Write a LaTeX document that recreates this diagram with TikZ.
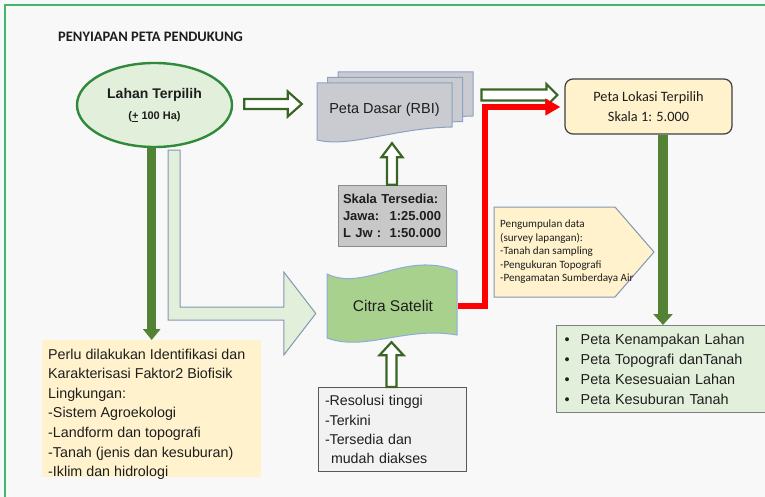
\documentclass[tikz,border=0pt]{standalone}
\usepackage{fontspec}
\setmainfont{Liberation Sans}
\newfontfamily\calibri{Carlito}
\usetikzlibrary{calc,arrows.meta,shapes.geometric,backgrounds}

\definecolor{bgcol}{HTML}{F8F8F8}
\definecolor{framecol}{HTML}{43B66E}
\definecolor{textdark}{HTML}{1E1E1E}
\definecolor{lightgreen}{HTML}{E2EFDA}
\definecolor{lahanborder}{HTML}{2F8A3C}
\definecolor{hollowgreen}{HTML}{3B6525}
\definecolor{darkgreen}{HTML}{548235}
\definecolor{pagefill}{HTML}{CACBD0}
\definecolor{pageborder}{HTML}{8EA0C2}
\definecolor{skalafill}{HTML}{C8C8C8}
\definecolor{skalaborder}{HTML}{8A8A8A}
\definecolor{citrafill}{HTML}{A9D18E}
\definecolor{citraborder}{HTML}{8FAADC}
\definecolor{lborder}{HTML}{8497B0}
\definecolor{creamfill}{HTML}{FFF2CC}
\definecolor{resfill}{HTML}{F2F2F2}
\definecolor{resborder}{HTML}{595959}
\definecolor{lokborder}{HTML}{3F3F3F}
\definecolor{listborder}{HTML}{7F7F7F}
\definecolor{redline}{HTML}{FF0000}

% block arrow pointing right: style, start point, tip point, shaft half, head half, head length
\newcommand\blockright[6]{%
  \draw[#1] let \p1=#2, \p2=#3 in
    (\x1,\y1+#4) -- (\x2-#6,\y1+#4) -- (\x2-#6,\y1+#5) -- (\x2,\y1)
    -- (\x2-#6,\y1-#5) -- (\x2-#6,\y1-#4) -- (\x1,\y1-#4) -- cycle;}
% block arrow pointing up: style, start point, tip point, shaft half, head half, head length
\newcommand\blockup[6]{%
  \draw[#1] let \p1=#2, \p2=#3 in
    (\x1-#4,\y1) -- (\x1-#4,\y2-#6) -- (\x1-#5,\y2-#6) -- (\x1,\y2)
    -- (\x1+#5,\y2-#6) -- (\x1+#4,\y2-#6) -- (\x1+#4,\y1) -- cycle;}

\begin{document}
\begin{tikzpicture}[x=1pt,y=-1pt,
  every node/.style={text=textdark},
  hollow/.style={draw=hollowgreen, fill=white, line width=2.2pt},
  darkarrow/.style={draw=darkgreen, line width=9pt, -{Triangle[width=17pt,length=11pt]}},
  darkarrowB/.style={draw=darkgreen, line width=10pt, -{Triangle[width=19pt,length=11pt]}},
  pagestyle/.style={fill=pagefill, draw=pageborder, line width=1pt},
  lightarrow/.style={fill=lightgreen, draw=lborder, line width=1pt},
  redpath/.style={draw=redline, line width=6pt, -{Triangle[width=16pt,length=15pt]}, shorten >=4pt},
]
\useasboundingbox (0,0) rectangle (765,497);

% title
\node[anchor=west, inner sep=0, font={\calibri\bfseries\fontsize{14.5}{17}\selectfont}] (title) at (58,37) {PENYIAPAN PETA PENDUKUNG};

% selected land
\node[ellipse, draw=lahanborder, line width=2.4pt, fill=lightgreen, minimum width=155pt, minimum height=84pt,
  inner sep=0, align=center, font={\bfseries\fontsize{14}{21}\selectfont}] (lahan) at (154.5,105)
  {Lahan Terpilih\\{\fontsize{11}{21}\selectfont(\underline{+} 100 Ha)}};

% stacked base-map sheets
\foreach \dx/\dy in {21/-11, 10.5/-5.5, 0/0}
  \filldraw[pagestyle, shift={(\dx,\dy)}] (317,83) -- (452,83) -- (452,127)
    .. controls (395,128) and (350,148) .. (317,140) -- cycle;
\node[font={\fontsize{14.5}{17}\selectfont}, minimum width=135pt, minimum height=54pt, inner sep=0] (dasar) at (384.5,110) {Peta Dasar (RBI)};

% satellite image banner
\filldraw[fill=citrafill, draw=citraborder, line width=1pt]
  (327,274) .. controls (365,292) and (405,250) .. (457,271) -- (457,335)
  .. controls (405,326) and (365,352) .. (327,338) -- cycle;
\node[font={\fontsize{15.5}{18}\selectfont}, minimum width=130pt, minimum height=72pt, inner sep=0] (citra) at (393,306) {Citra Satelit};

% boxes
\node[draw=skalaborder, fill=skalafill, line width=1pt, text width=98pt, inner xsep=5pt, inner ysep=9pt, align=left,
  font={\bfseries\fontsize{13}{17}\selectfont}] (skala) at (392,216)
  {Skala Tersedia:\\Jawa:\hfill 1:25.000\\L Jw :\hfill 1:50.000};

\node[draw=resborder, fill=resfill, line width=1pt, text width=135pt, inner xsep=6.5pt, inner ysep=8pt, align=left,
  anchor=north west, font={\fontsize{14.2}{19.3}\selectfont}] (resolusi) at (318,387)
  {-Resolusi tinggi\\-Terkini\\-Tersedia dan\\\hspace*{6pt}mudah diakses};

\node[fill=creamfill, minimum width=219pt, minimum height=137pt, anchor=north west, inner sep=0] (bio) at (42,340) {};
\node[anchor=north west, inner sep=0, align=left, font={\fontsize{14.3}{19.6}\selectfont}] (biotext) at (48,348.5)
  {Perlu dilakukan Identifikasi dan\\Karakterisasi Faktor2 Biofisik\\Lingkungan:\\-Sistem Agroekologi\\-Landform dan topografi\\-Tanah (jenis dan kesuburan)\\-Iklim dan hidrologi};

\node[draw=lokborder, fill=creamfill, rounded corners=8pt, line width=1.2pt, minimum width=167pt, minimum height=55pt,
  align=center, font={\calibri\fontsize{14.3}{20}\selectfont}] (lokasi) at (648.5,106.5)
  {Peta Lokasi Terpilih\\Skala 1: 5.000};

\filldraw[fill=creamfill, draw=lborder, line width=1pt]
  (494,207) -- (615,207) -- (654,252) -- (615,297) -- (494,297) -- cycle;
\node[anchor=west, inner sep=0, align=left, font={\calibri\fontsize{11.1}{13.5}\selectfont}] (survey) at (500,252)
  {Pengumpulan data\\(survey lapangan):\\-Tanah dan sampling\\-Pengukuran Topografi\\-Pengamatan Sumberdaya Air};

\node[draw=listborder, fill=lightgreen, line width=1.3pt, anchor=north west, minimum width=215pt, minimum height=87pt,
  text width=199pt, inner xsep=8pt, inner ysep=8pt, align=left, font={\fontsize{14.4}{20}\selectfont}] (list) at (556,325)
  {\makebox[16pt][l]{•}Peta Kenampakan Lahan\\\makebox[16pt][l]{•}Peta Topografi danTanah\\
   \makebox[16pt][l]{•}Peta Kesesuaian Lahan\\\makebox[16pt][l]{•}Peta Kesuburan Tanah};

% connectors behind the shapes
\begin{pgfonlayer}{background}
  \fill[bgcol] (0,0) rectangle (765,497);
  \draw[framecol, line width=1.4pt] (5,497) -- (5,5) -- (766,5);
  \filldraw[lightarrow] let \p1=(lahan.south), \p2=(citra.west) in
    (\x1+13.5pt,\y1-2pt) -- (\x1+25.5pt,\y1-2pt) -- (\x1+25.5pt,\y2-1pt) -- (\x2-44pt,\y2-1pt)
    -- (\x2-44pt,\y2+34pt) -- (\x2-12pt,\y2-7.5pt) -- (\x2-44pt,\y2-49pt) -- (\x2-44pt,\y2-14pt)
    -- (\x1+13.5pt,\y2-14pt) -- cycle;
  \draw[darkarrow] (bio.north |- lahan.south) -- (bio.north);
\end{pgfonlayer}

\blockright{hollow}{($(lahan.east)+(11,-1)$)}{($(dasar.west)+(-15,0)$)}{5pt}{12.5pt}{14pt}
\blockup{hollow}{(skala.north)}{($(dasar.south)+(0,6)$)}{5pt}{10.5pt}{14pt}
\blockup{hollow}{($(resolusi.north)+(-1,0)$)}{($(citra.south)+(-2,0)$)}{5pt}{12pt}{13pt}
\blockright{hollow}{($(lokasi.west)+(-83,-11.5)$)}{($(lokasi.west)+(-7,0)$)}{5.5pt}{11pt}{11pt}

\coordinate (redturn) at (484.5,107);
\draw[redpath] (citra.east) -| (redturn) -- (redturn -| lokasi.west);

\coordinate (lk) at ($(lokasi.south)+(14.5,0)$);
\draw[darkarrowB] (lk) -- (lk |- list.north);
\end{tikzpicture}
\end{document}
